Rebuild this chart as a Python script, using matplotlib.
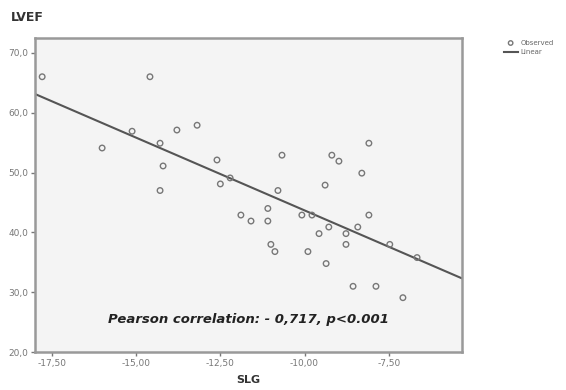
import numpy as np
import matplotlib.pyplot as plt

# SLG (x) and LVEF (y) values
slg = [-17.79, -16.01, -15.12, -14.59, -14.29, -14.20, -14.29, -13.79, -13.19,
       -12.60, -12.50, -12.21, -10.67, -10.79, -11.09, -11.89, -11.59, -11.09,
       -11.00, -10.88, -9.90, -10.08, -9.78, -9.36, -9.57, -9.28, -9.39, -9.19,
       -8.98, -8.77, -8.77, -8.42, -8.30, -8.09, -8.09, -7.47, -6.66, -8.56,
       -7.88, -7.08]
lvef = [66.0, 54.1, 56.9, 66.0, 54.9, 51.1, 47.0, 57.1, 57.9,
        52.1, 48.1, 49.1, 52.9, 47.0, 44.0, 42.9, 41.9, 41.9,
        38.0, 36.8, 36.8, 42.9, 42.9, 34.8, 39.8, 40.9, 47.9, 52.9,
        51.9, 39.8, 38.0, 40.9, 49.9, 54.9, 42.9, 38.0, 35.8, 31.0,
        31.0, 29.1]

xticks = [-17.5, -15.0, -12.5, -10.0, -7.5]
yticks = [20, 30, 40, 50, 60, 70]

fig = plt.figure(figsize=(5.66, 3.9), dpi=100)
ax = fig.add_axes([0.062, 0.097, 0.754, 0.806])
ax.set_facecolor('#f4f4f4')

xlim = (-18.0, -5.33)
ax.scatter(slg, lvef, s=16, facecolors='none', edgecolors='#777777',
           linewidths=1.0, label='Observed', zorder=3)

# Linear fit
m, b = np.polyfit(slg, lvef, 1)
xs = np.array(xlim)
ax.plot(xs, m * xs + b, color='#555555', lw=1.5, label='Linear', zorder=2)

ax.set_xlim(*xlim)
ax.set_ylim(20, 72.5)
ax.set_xticks(xticks)
ax.set_xticklabels([('%.2f' % t).replace('.', ',') for t in xticks])
ax.set_yticks(yticks)
ax.set_yticklabels([('%.1f' % t).replace('.', ',') for t in yticks])
ax.tick_params(labelsize=6.5, labelcolor='#777777', color='#777777',
               length=3, width=1, pad=2)
for s in ax.spines.values():
    s.set_color('#999999')
    s.set_linewidth(1.8)

fig.text(0.02, 0.955, 'LVEF', fontsize=9, fontweight='bold', color='#333333',
         va='center')
ax.set_xlabel('SLG', fontsize=8, fontweight='bold', color='#333333', labelpad=5)

ax.text(0.5, 0.105, 'Pearson correlation: - 0,717, p<0.001', transform=ax.transAxes,
        ha='center', va='center', fontsize=9.5, fontweight='bold',
        fontstyle='italic', color='#222222')

fig.legend(loc='upper left', bbox_to_anchor=(0.885, 0.905), frameon=False,
           fontsize=5, labelcolor='#666666', handlelength=2.0,
           markerscale=0.8, borderaxespad=0, handletextpad=0.4)

fig.savefig('out.png', dpi=100)
